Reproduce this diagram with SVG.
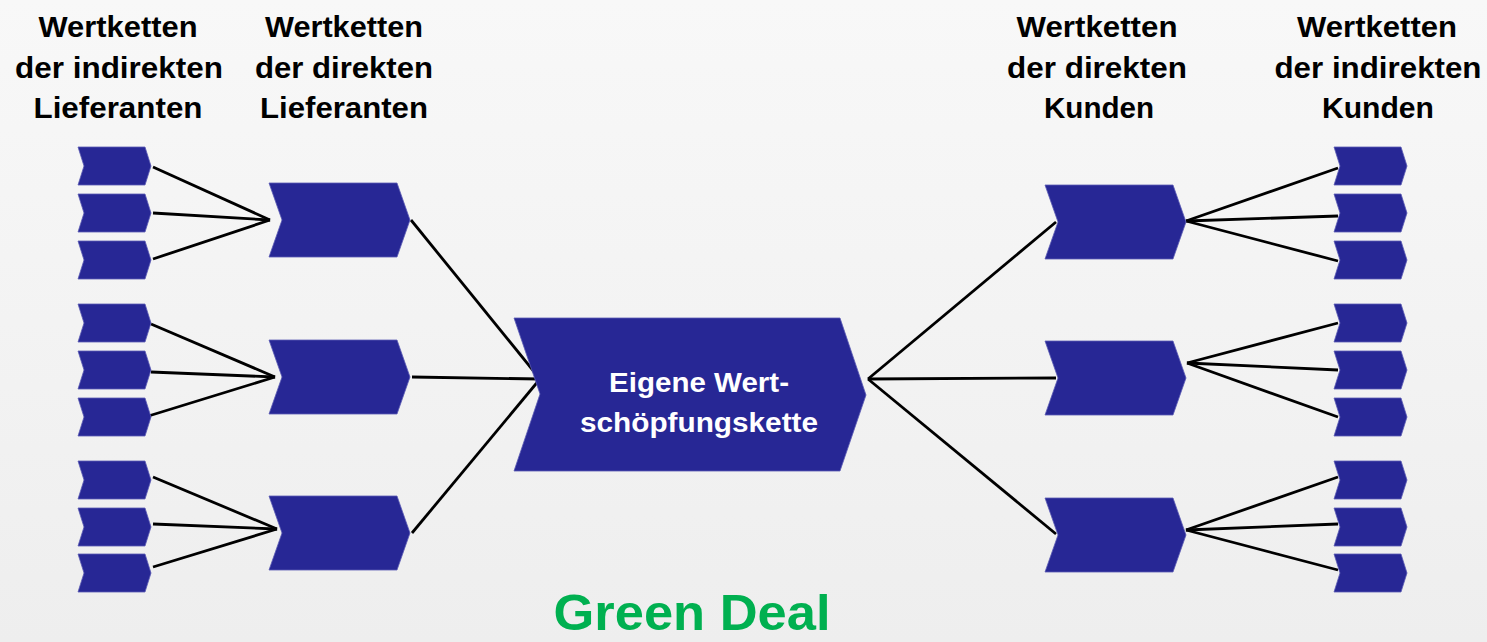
<svg xmlns="http://www.w3.org/2000/svg" xmlns:xlink="http://www.w3.org/1999/xlink" width="1487" height="642" viewBox="0 0 1487 642">
<defs>
<linearGradient id="bg" x1="0" y1="0" x2="0" y2="1">
<stop offset="0" stop-color="#f8f8f8"/>
<stop offset="1" stop-color="#eeeeee"/>
</linearGradient>
<polygon id="sm" points="0,0 67,0 73,19 67,38 0,38 6,19"/>
<polygon id="md" points="0,0 128,0 141,37 128,74 0,74 13,37"/>
</defs>
<style>
.chev{fill:#272795;stroke:#5a5ab4;stroke-width:0.8;}
.hdr{font-family:"Liberation Sans",Arial,sans-serif;font-weight:bold;font-size:29px;fill:#000;text-anchor:middle;}
.ctr{font-family:"Liberation Sans",Arial,sans-serif;font-weight:bold;font-size:28px;fill:#fff;text-anchor:middle;}
.gd{font-family:"Liberation Sans",Arial,sans-serif;font-weight:bold;font-size:50px;fill:#00b050;text-anchor:middle;}
.con line{stroke:#000;stroke-width:2.8;}
</style>
<rect width="1487" height="642" fill="url(#bg)"/>

<g id="headers">
<text class="hdr" x="118" y="37" textLength="159" lengthAdjust="spacingAndGlyphs">Wertketten</text>
<text class="hdr" x="119" y="78" textLength="208" lengthAdjust="spacingAndGlyphs">der indirekten</text>
<text class="hdr" x="118" y="118" textLength="169" lengthAdjust="spacingAndGlyphs">Lieferanten</text>
<text class="hdr" x="344" y="37" textLength="158" lengthAdjust="spacingAndGlyphs">Wertketten</text>
<text class="hdr" x="344" y="78" textLength="178" lengthAdjust="spacingAndGlyphs">der direkten</text>
<text class="hdr" x="344" y="118" textLength="168" lengthAdjust="spacingAndGlyphs">Lieferanten</text>
<text class="hdr" x="1097" y="37" textLength="161" lengthAdjust="spacingAndGlyphs">Wertketten</text>
<text class="hdr" x="1097" y="78" textLength="180" lengthAdjust="spacingAndGlyphs">der direkten</text>
<text class="hdr" x="1099" y="118" textLength="110" lengthAdjust="spacingAndGlyphs">Kunden</text>
<text class="hdr" x="1377" y="37" textLength="160" lengthAdjust="spacingAndGlyphs">Wertketten</text>
<text class="hdr" x="1378" y="78" textLength="207" lengthAdjust="spacingAndGlyphs">der indirekten</text>
<text class="hdr" x="1378" y="118" textLength="112" lengthAdjust="spacingAndGlyphs">Kunden</text>
</g>

<g id="connectors" class="con">
<line x1="153" y1="167" x2="270" y2="220"/>
<line x1="153" y1="213" x2="270" y2="220"/>
<line x1="153" y1="259" x2="270" y2="220"/>
<line x1="151" y1="324" x2="275" y2="377"/>
<line x1="151" y1="372" x2="275" y2="377"/>
<line x1="142" y1="418" x2="275" y2="377"/>
<line x1="153" y1="477" x2="277" y2="529"/>
<line x1="153" y1="524" x2="277" y2="529"/>
<line x1="153" y1="567" x2="277" y2="529"/>
<line x1="411" y1="220" x2="540" y2="379"/>
<line x1="412" y1="377" x2="540" y2="379"/>
<line x1="412" y1="533" x2="540" y2="379"/>
<line x1="868" y1="379" x2="1056" y2="222"/>
<line x1="868" y1="379" x2="1056" y2="378"/>
<line x1="868" y1="379" x2="1056" y2="534"/>
<line x1="1186" y1="221" x2="1338" y2="168"/>
<line x1="1186" y1="221" x2="1338" y2="216"/>
<line x1="1186" y1="221" x2="1338" y2="261"/>
<line x1="1187" y1="363" x2="1338" y2="323"/>
<line x1="1187" y1="363" x2="1338" y2="370"/>
<line x1="1187" y1="363" x2="1338" y2="417"/>
<line x1="1186" y1="530" x2="1338" y2="477"/>
<line x1="1186" y1="530" x2="1338" y2="524"/>
<line x1="1186" y1="530" x2="1338" y2="570"/>
</g>

<g id="ls1"><use href="#sm" x="78" y="147" class="chev"/></g>
<g id="ls2"><use href="#sm" x="78" y="194" class="chev"/></g>
<g id="ls3"><use href="#sm" x="78" y="241" class="chev"/></g>
<g id="ls4"><use href="#sm" x="78" y="304" class="chev"/></g>
<g id="ls5"><use href="#sm" x="78" y="351" class="chev"/></g>
<g id="ls6"><use href="#sm" x="78" y="398" class="chev"/></g>
<g id="ls7"><use href="#sm" x="78" y="461" class="chev"/></g>
<g id="ls8"><use href="#sm" x="78" y="508" class="chev"/></g>
<g id="ls9"><use href="#sm" x="78" y="554" class="chev"/></g>

<g id="lm1"><use href="#md" x="269" y="183" class="chev"/></g>
<g id="lm2"><use href="#md" x="269" y="340" class="chev"/></g>
<g id="lm3"><use href="#md" x="269" y="496" class="chev"/></g>

<g id="center">
<polygon class="chev" points="514,318 840,318 866,395 840,471 514,471 540,394"/>
<text class="ctr" x="699" y="392" textLength="180" lengthAdjust="spacingAndGlyphs">Eigene Wert-</text>
<text class="ctr" x="699" y="432" textLength="238" lengthAdjust="spacingAndGlyphs">schöpfungskette</text>
</g>

<g id="rm1"><use href="#md" x="1045" y="185" class="chev"/></g>
<g id="rm2"><use href="#md" x="1045" y="341" class="chev"/></g>
<g id="rm3"><use href="#md" x="1045" y="498" class="chev"/></g>

<g id="rs1"><use href="#sm" x="1334" y="147" class="chev"/></g>
<g id="rs2"><use href="#sm" x="1334" y="194" class="chev"/></g>
<g id="rs3"><use href="#sm" x="1334" y="241" class="chev"/></g>
<g id="rs4"><use href="#sm" x="1334" y="304" class="chev"/></g>
<g id="rs5"><use href="#sm" x="1334" y="351" class="chev"/></g>
<g id="rs6"><use href="#sm" x="1334" y="398" class="chev"/></g>
<g id="rs7"><use href="#sm" x="1334" y="461" class="chev"/></g>
<g id="rs8"><use href="#sm" x="1334" y="508" class="chev"/></g>
<g id="rs9"><use href="#sm" x="1334" y="554" class="chev"/></g>

<g id="title">
<text class="gd" x="692" y="630" textLength="277" lengthAdjust="spacingAndGlyphs">Green Deal</text>
</g>
</svg>
